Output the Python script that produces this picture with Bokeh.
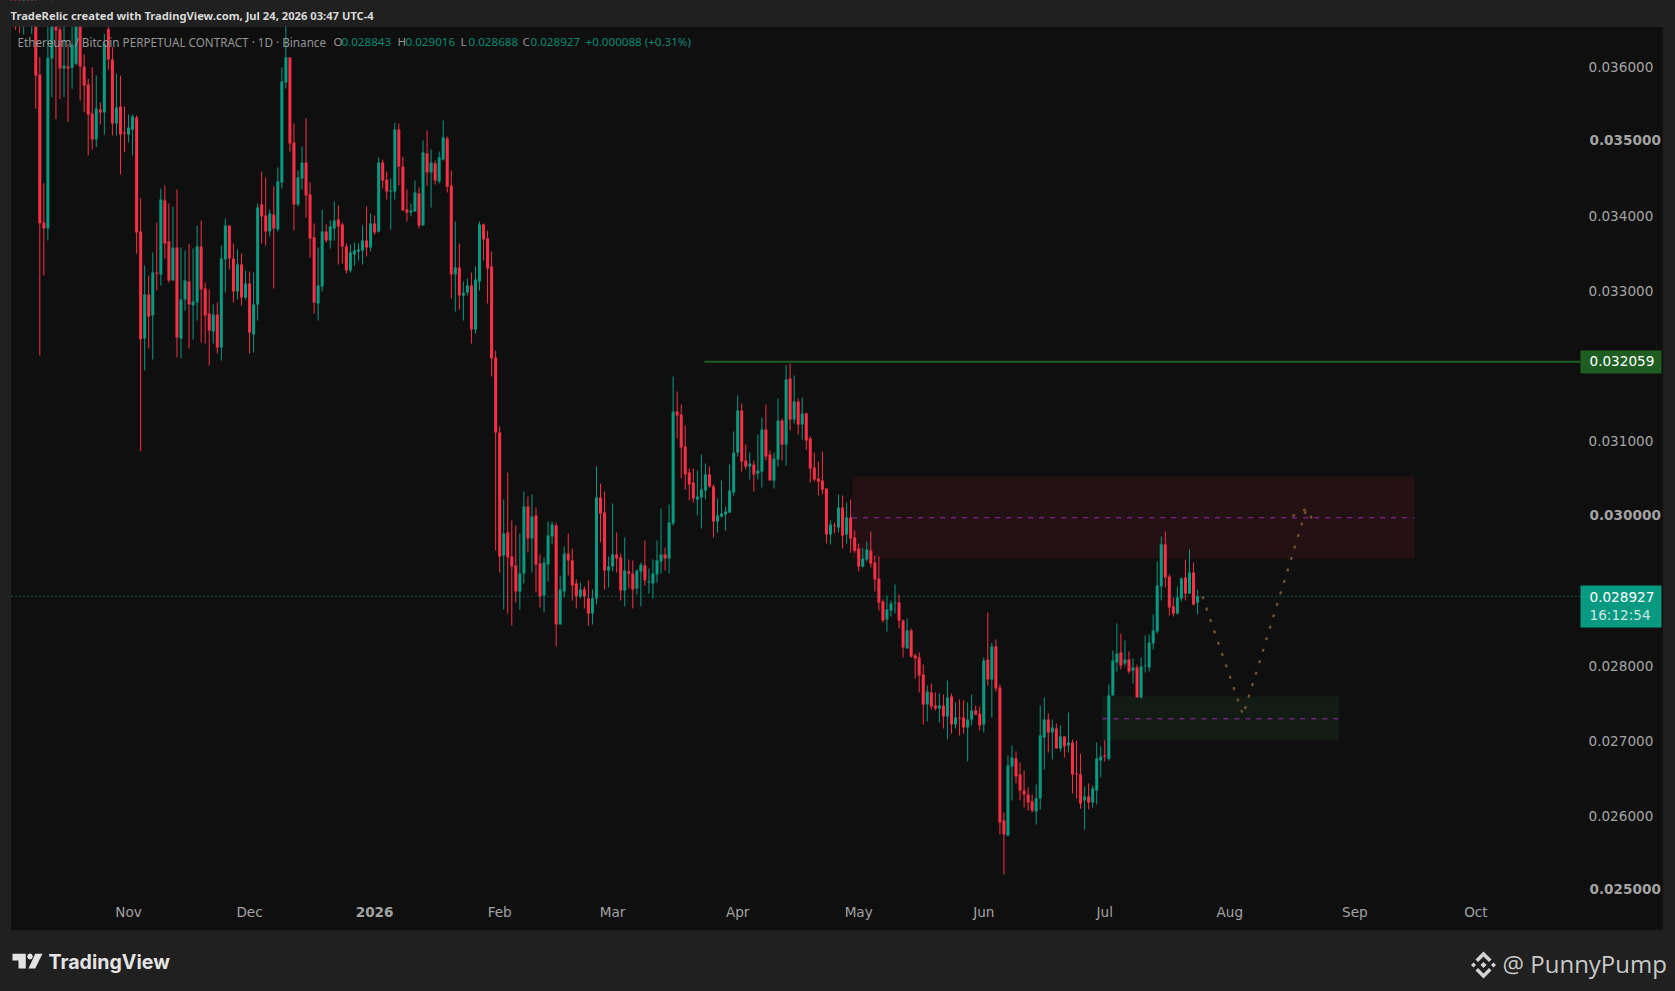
from bokeh.embed import file_html
from bokeh.resources import INLINE
from bokeh.plotting import figure
from bokeh.models import (Range1d, FixedTicker, NumeralTickFormatter, Label, BoxAnnotation,
                          PolyAnnotation, ColumnDataSource)

# daily candles, prices in millionths; first candle is 7 days before index 0 (10 Oct 2025)
first_day = -7
opens = [36950,36950,36950,36700,36950,36700,36900,
 35894,33918,33838,36108,36600,36495,35974,36001,35983,36037,
 36600,36001,35761,35373,35026,35427,35387,36500,36094,35240,
 35467,35120,35093,35160,35320,33798,32370,32957,32677,33251,
 33224,34212,33665,33144,33585,32370,32890,33131,32810,32850,
 33598,33037,32703,32463,32690,32250,33424,33878,33438,32997,
 33358,32917,33104,32423,32824,34159,34012,33798,34025,33825,
 34452,35787,36121,34986,34159,34506,34719,34292,33718,32837,
 33064,33798,33678,33838,33958,33892,33598,33278,33491,33531,
 33545,33678,33585,33905,33798,34719,34492,34332,34332,35160,
 34666,34092,34052,34065,34305,33878,34839,34586,34706,34466,
 34759,35040,34412,33224,33318,32944,32984,33077,32490,33131,
 33892,33705,33331,32116,31115,29473,29780,29459,29339,28992,
 29232,30127,29700,30007,29366,28939,29353,29726,29873,28552,
 28992,29499,29406,29099,28925,29019,28899,28698,28899,30247,
 30047,29272,29326,29486,29446,29005,29259,29232,29032,29259,
 29339,29112,29099,29219,29393,29486,29433,29900,31395,31355,
 30928,30581,30447,30220,30247,30340,30554,30394,29927,29993,
 30020,30046,30313,30847,31408,30741,30660,30687,30567,30594,
 31154,30821,30474,30754,31274,30954,31835,31288,31528,31221,
 31368,31034,30647,30500,30474,30367,29753,29873,29846,30113,
 29753,29980,29713,29566,29325,29419,29539,29379,29165,28858,
 28618,28738,28836,28845,28605,28231,28472,28138,28111,27884,
 27484,27644,27470,27430,27470,27323,27590,27217,27310,27310,
 27177,27283,27403,27363,27217,28084,27817,28258,27710,25935,
 25735,26656,26763,26549,26335,26282,26189,26055,26229,27043,
 27283,27110,27163,26896,27056,26936,26976,26562,26549,26202,
 26255,26175,26335,26736,26803,26758,27604,28044,28178,28031,
 28084,27937,27977,27577,27995,27977,28298,28458,29059,29620,
 29192,28792,28698,28899,29179,28965,29246,28843]
closes = [36750,36700,36700,36950,36700,36950,35881,
 33909,33838,36117,36700,36482,35974,36014,35974,36295,36600,
 36001,35747,35360,35026,35440,35387,36304,36094,35240,35454,
 35093,35106,35187,35333,33785,32361,32957,32663,33251,33237,
 34225,33638,33144,33585,32383,32890,33144,32824,32864,33598,
 33024,32677,32477,32690,32250,33438,33878,33438,32997,33358,
 32917,33104,32450,32824,34119,33998,33798,34038,33838,34466,
 35801,36121,34973,34159,34519,34719,34279,33705,32850,33077,
 33798,33678,33865,33945,33865,33598,33278,33518,33545,33558,
 33678,33585,33905,33785,34719,34479,34332,34345,35160,34666,
 34079,34052,34079,34319,33878,34853,34586,34719,34479,34786,
 35053,34399,33224,33318,32944,32984,33077,32490,33157,33892,
 33691,33304,32103,31115,29459,29766,29446,29326,28992,29232,
 30127,29700,29993,29353,28925,29379,29740,29887,28552,29019,
 29499,29406,29072,28925,29019,28925,28698,28899,30247,30033,
 29272,29326,29486,29433,29005,29272,29232,29019,29272,29353,
 29139,29126,29232,29406,29486,29433,29913,31395,31342,30915,
 30554,30421,30234,30260,30354,30554,30394,29927,30007,30033,
 30060,30340,30847,31408,30727,30660,30700,30554,30607,31154,
 30794,30474,30767,31274,30954,31822,31288,31528,31221,31368,
 31008,30634,30487,30460,30353,29753,29886,29864,30113,29739,
 29980,29699,29539,29325,29432,29552,29365,29152,28845,28604,
 28751,28831,28845,28604,28245,28472,28124,28098,27871,27484,
 27657,27457,27430,27470,27323,27577,27217,27310,27297,27177,
 27283,27403,27350,27203,28071,27817,28258,27697,25908,25748,
 26669,26776,26522,26335,26282,26175,26069,26229,27070,27283,
 27110,27177,26896,27056,26923,26976,26549,26549,26162,26255,
 26175,26362,26763,26789,26789,27604,28071,28164,28004,28084,
 27924,27977,27577,27991,28004,28311,28471,29072,29620,29179,
 28779,28698,28912,29166,28965,29246,28819,28927]
highs = [37000,37050,37050,37050,37050,37050,37000,
 36126,34443,36700,36900,36800,36700,36700,36304,36600,36800,
 36800,36161,35836,35992,35881,35520,36437,36600,36259,35903,
 35881,35467,35360,35360,35347,34239,33344,33211,33518,33918,
 34372,34412,34172,34132,34359,33585,33545,33634,33571,33878,
 33945,33117,33024,32824,32850,33611,33972,33878,33638,33558,
 33504,33278,33264,33251,34172,34599,34519,34092,34399,34653,
 35992,36600,36126,35240,34612,34933,35307,34452,33905,33585,
 34092,33892,33945,34199,34145,33918,33638,33625,33651,33638,
 33878,34132,34038,34012,34786,34759,34599,34506,35253,35240,
 34799,34359,34172,34479,34386,35013,35147,34893,34746,34866,
 35280,35066,34612,33932,33638,33131,33171,33251,33331,33932,
 33905,33811,33531,32210,31195,30220,30581,29940,29873,29766,
 30327,30260,30287,30113,29486,29446,29927,29927,29913,29206,
 29593,29766,29566,29152,29112,29059,29139,29019,30661,30434,
 30327,29459,30167,29780,29499,29713,29419,29406,29286,29379,
 29673,29299,29419,29673,30100,29580,30154,31862,31662,31489,
 31208,30634,30634,30607,30821,30701,30661,30421,30234,30474,
 30126,30687,31128,31608,31501,30954,30847,30741,31088,31314,
 31488,30874,30847,31568,31301,32009,32035,31875,31568,31582,
 31381,31061,30847,30727,30861,30367,29940,29913,30287,30273,
 30180,30220,29806,29632,29579,29659,29793,29472,29459,28885,
 28938,28872,29085,28952,28618,28632,28498,28164,28178,28018,
 27737,27764,27644,27630,27617,27804,27630,27510,27550,27537,
 27510,27617,27470,27457,28111,28712,28311,28351,27751,26042,
 26803,26936,26856,26709,26602,26376,26282,26416,27470,27577,
 27363,27283,27230,27203,27056,27377,27016,27003,26829,26389,
 26429,26402,26976,26923,27003,27751,28204,28565,28431,28338,
 28191,28098,28018,28111,28405,28418,28685,29393,29726,29793,
 29219,28912,29059,29179,29419,29553,29379,29016]
lows = [36650,36490,36446,36428,36600,36437,35436,
 32143,33211,33678,35592,35298,35565,35592,35258,35703,36014,
 35547,35391,34813,34893,34924,35227,35093,35961,35080,35080,
 34559,34857,34986,34813,33504,30866,31943,32236,32089,33011,
 33077,33438,33117,33144,32116,32103,32743,32236,32356,32610,
 32316,32303,32009,32303,32169,32076,32984,33291,32850,32890,
 32810,32890,32169,32183,32610,33638,33611,33731,33037,33798,
 34372,35707,34866,33811,34132,34359,33985,33451,32703,32610,
 32997,33651,33571,33678,33358,33371,33237,33251,33344,33411,
 33358,33464,33531,33758,33785,34372,34225,33825,34225,34412,
 34079,33932,34000,34065,33838,33878,34412,34119,34426,34439,
 34746,34319,32904,32730,32757,32610,32944,32303,32436,33011,
 33411,32837,31862,29540,29246,28752,28698,28538,28845,28752,
 29099,29513,29246,28979,28779,28712,29126,29620,28258,28552,
 28912,29206,28872,28765,28899,28765,28538,28552,28819,29646,
 29019,29046,29259,29246,28872,28792,29032,28765,28952,28792,
 29072,28965,28899,29112,29232,29272,29232,29873,31035,30501,
 30354,30207,30180,30007,29833,30220,30381,29713,29780,29980,
 29806,30046,30273,30794,30594,30620,30487,30327,30487,30380,
 30741,30474,30367,30660,30741,30674,31141,31234,31088,31021,
 30887,30447,30460,30273,30287,29632,29619,29766,29779,29566,
 29632,29512,29512,29259,29312,29392,29312,28992,28738,28578,
 28458,28658,28698,28498,28111,28231,28111,27831,27644,27217,
 27257,27417,27403,27243,27163,27016,27096,27163,27070,27096,
 26723,27203,27337,27137,27110,27737,27310,27657,25748,25214,
 25721,26202,26429,26202,26109,26069,26042,25882,26082,26616,
 26843,26749,26896,26856,26776,26843,26295,26229,26091,25815,
 26082,26108,26149,26509,26723,26736,27604,27924,27951,27991,
 27897,27764,27577,27564,27911,27924,28218,28431,28872,29046,
 28672,28658,28685,28859,28872,28965,28805,28688]
if not (len(opens) == len(closes) == len(highs) == len(lows) == 295):
    raise SystemExit(f"lengths {len(opens)} {len(closes)} {len(highs)} {len(lows)}")

month_days = [22, 52, 114, 142, 173, 203, 234, 264, 295, 326, 356]
month_names = ["Nov", "Dec", "Feb", "Mar", "Apr", "May", "Jun", "Jul", "Aug", "Sep", "Oct"]
year_day, year_name = 83, "2026"
regular_ticks = [0.036, 0.034, 0.033, 0.031, 0.028, 0.027, 0.026]
bold_ticks = [0.035, 0.030, 0.025]
resistance = 0.032059
last_price = 0.028927
sell_zone = (201.4, 340.8, 0.030527, 0.029432, 0.029976)
buy_zone = (263.4, 322.0, 0.027595, 0.027003, 0.027292)
path_days = [288.2, 298.3, 314.0]
path_prices = [0.028927, 0.027341, 0.030096]
path2_days = [310.5, 314.0, 316.3]
path2_prices = [0.029998, 0.030096, 0.029869]

OUTER, PANEL, EDGE = "#202020", "#0f0f0f", "#2c2c2c"
UP, DOWN = "#089981", "#f92f45"
TEXT = "#a3a3a3"

n = len(opens)
days = [first_day + i for i in range(n)]
colors = [UP if c >= o else DOWN for o, c in zip(opens, closes)]
src = ColumnDataSource(dict(
    day=days, o=[v * 1e-6 for v in opens], h=[v * 1e-6 for v in highs],
    l=[v * 1e-6 for v in lows], c=[v * 1e-6 for v in closes], color=colors))

W, H = 1675, 991
px_per_day = 4.034
day0_px = 39.3
def day_at(X): return (X - day0_px) / px_per_day
def price_at(Y): return 0.030 + (515.5 - Y) / 74900

p = figure(width=W, height=H, output_backend="svg", toolbar_location=None,
           x_range=Range1d(day_at(0), day_at(W)),
           y_range=Range1d(price_at(H), price_at(0)),
           min_border_left=0, min_border_right=0, min_border_top=0, min_border_bottom=0,
           background_fill_color=OUTER, border_fill_color=OUTER,
           y_axis_location="right", outline_line_color=None)
p.grid.visible = False

def fx(v): return v
def fy(v): return H - v

def box(X0, X1, Y0, Y1, color, line=None, level="annotation", fill_alpha=1):
    p.add_layout(BoxAnnotation(left=fx(X0), right=fx(X1), top=fy(Y0), bottom=fy(Y1),
                               left_units="screen", right_units="screen", top_units="screen", bottom_units="screen",
                               fill_color=color, fill_alpha=fill_alpha, line_color=line, line_width=2, level=level))

# panel behind everything
box(10, 1663, 26, 930, PANEL, level="underlay")

for ax in (p.xaxis[0], p.yaxis[0]):
    ax.axis_line_color = None
    ax.major_tick_line_color = None
    ax.minor_tick_line_color = None
    ax.major_label_text_color = TEXT
    ax.major_label_text_font = "DejaVu Sans"
    ax.major_label_text_font_size = "13.6px"
p.yaxis[0].ticker = FixedTicker(ticks=regular_ticks)
p.yaxis[0].formatter = NumeralTickFormatter(format="0.000000")
p.yaxis[0].major_label_standoff = -93
p.xaxis[0].ticker = FixedTicker(ticks=month_days)
p.xaxis[0].major_label_overrides = {d: t for d, t in zip(month_days, month_names)}
p.xaxis[0].major_label_standoff = -94

# zones
for z, col in ((sell_zone, "#241114"), (buy_zone, "#121c15")):
    p.quad(left=[z[0]], right=[z[1]], top=[z[2]], bottom=[z[3]], fill_color=col, line_color=None)

# candles
p.segment("day", "h", "day", "l", source=src, color="color", line_width=1)
p.vbar(x="day", width=0.75, top="o", bottom="c", source=src, fill_color="color", line_color=None)

# level lines
for z in (sell_zone, buy_zone):
    p.line([z[0], z[1]], [z[4], z[4]], line_color="#9c27b0", line_width=1, line_dash="5 6")
p.line([164.8, day_at(1580)], [resistance, resistance], line_color="#1e5e22", line_width=2)
p.line([day_at(11), day_at(1580)], [last_price, last_price], line_color=UP, line_width=1, line_dash="1 3")
p.line(path_days, path_prices, line_color="#70502c", line_width=2.4, line_dash="3 9")
p.line(path2_days, path2_prices, line_color="#70502c", line_width=2.4, line_dash="3 9")

# mask candle tops that run above the panel; panel edge over it
box(0, W, 0, 26, OUTER)
box(0, 10, 0, H, OUTER)
box(10, 1663, 26, 930, None, line=EDGE, fill_alpha=0)

def label(text, X, Y, color=TEXT, size="13.6px", font="DejaVu Sans", style="normal", align="left", alpha=1.0):
    p.add_layout(Label(x=fx(X), y=fy(Y), x_units="screen", y_units="screen", text=text,
                       text_color=color, text_font_size=size, text_font=font, text_font_style=style,
                       text_align=align, text_baseline="middle", text_alpha=alpha))

def poly(points, color="#e4e4e4"):
    p.add_layout(PolyAnnotation(xs=[fx(a) for a, b in points], ys=[fy(b) for a, b in points],
                                xs_units="screen", ys_units="screen",
                                fill_color=color, fill_alpha=1, line_color=None))

# bold axis labels
for t in bold_ticks:
    Y = 515.5 - (t - 0.030) * 74900
    label(f"{t:.6f}", 1589, Y - 1.5, style="bold")
label(year_name, day0_px + year_day * px_per_day, 911, style="bold", align="center")

# price tags
box(1580, 1661, 350, 373, "#1e5e22")
label(f"{resistance:.6f}", 1589, 360, color="#ffffff")
box(1580, 1661, 585, 627, UP)
label(f"{last_price:.6f}", 1589, 596, color="#ffffff")
label("16:12:54", 1589, 614, color="#ffffff", alpha=0.8)

# header and legend
label("TradeRelic created with TradingView.com, Jul 24, 2026 03:47 UTC-4", 10, 15,
      color="#d8d8d8", size="11.2px", font="Noto Sans", style="bold")
LEG = "#969696"
VAL = "#0a8a74"
label("Ethereum / Bitcoin PERPETUAL CONTRACT \u00b7 1D \u00b7 Binance", 17, 41, color=LEG, size="11.7px", font="Noto Sans")
for t, X, col in (("O", 333, LEG), ("0.028843", 341, VAL), ("H", 397, LEG), ("0.029016", 405, VAL),
                  ("L", 460, LEG), ("0.028688", 468, VAL), ("C", 522, LEG), ("0.028927", 530, VAL),
                  ("+0.000088 (+0.31%)", 585, VAL)):
    label(t, X, 41, color=col, size="11.6px", font="Noto Sans")

# footer
poly([(12, 953.3), (25.3, 953.3), (25.3, 968), (18, 968), (18, 960), (12, 960)])
poly([(34.7, 953.3), (42, 953.3), (34.7, 968), (28, 968)])
poly([(29.5, 953), (31.5, 953.8), (32.3, 956), (31.5, 958.2), (29.5, 959), (27.5, 958.2), (26.7, 956), (27.5, 953.8)])
label("TradingView", 48, 961, color="#e4e4e4", size="19.6px", font="Inter", style="bold")
LOGO = "#d4d4d4"
cx, cy = 1483, 964.5
for dx, r in ((0, 3), (-10, 2.5), (10, 2.5)):
    poly([(cx + dx, cy - r), (cx + dx + r, cy), (cx + dx, cy + r), (cx + dx - r, cy)], LOGO)
for s in (-1, 1):
    poly([(cx, cy + s * 13.5), (cx + 8, cy + s * 5.5), (cx + 5.5, cy + s * 3), (cx, cy + s * 8.5),
          (cx - 5.5, cy + s * 3), (cx - 8, cy + s * 5.5)], LOGO)
label("@ PunnyPump", 1502, 963, color="#c8c8c8", size="24px", font="Open Sans")

html = file_html(p, INLINE)
html = html.replace("<head>", f"<head><style>html,body{{margin:0;padding:0;background:{OUTER};overflow:hidden}}</style>", 1)
open("out.html", "w").write(html)
